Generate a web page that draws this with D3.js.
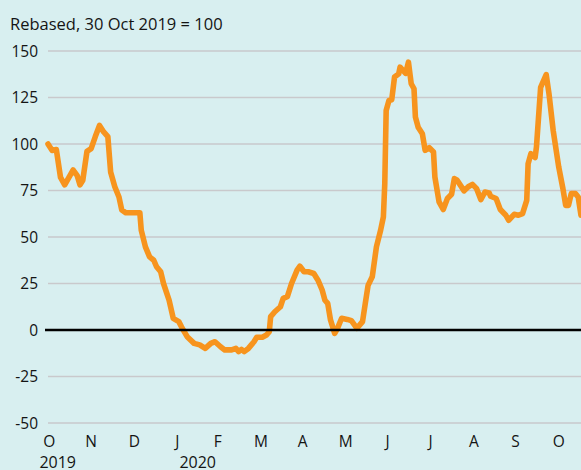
<!DOCTYPE html>
<html><head><meta charset="utf-8">
<script src="https://cdn.jsdelivr.net/npm/d3@7"></script>
<style>
html,body{margin:0;padding:0;background:#d8eff0;}
svg{display:block;}
text{font-family:"Open Sans",sans-serif;fill:#141414;}
</style></head><body>
<script>
// Data: days since 30 Oct 2019, index value (30 Oct 2019 = 100)
const days = [0,3,6,9,12,18,21,23,25,28,31,34,37,40,43,45,48,51,53,56,66,67,70,73,76,78,81,83,87,90,94,96,100,105,109,113,117,120,124,127,132,135,137,139,141,144,148,150,154,157,159,160,163,167,169,172,175,179,181,184,187,191,194,197,199,201,203,206,208,211,215,218,222,226,228,230,233,236,239,241,242,243,245,247,249,252,253,257,259,261,263,264,266,269,271,274,277,278,281,284,287,290,292,294,299,302,305,308,311,314,317,318,322,325,329,331,335,338,341,344,345,347,350,351,354,358,360,363,367,370,372,374,376,379,381,383];
const values = [100,96.5,97,82,78,86,83,78,80.5,96,97.5,104,110,106.5,104,85,77,71.5,64.5,63,63,53.7,44.7,39.3,37.5,34,31.3,25,16,6.3,4.5,1.6,-3.6,-7.2,-8,-9.9,-7.2,-6.3,-9,-10.7,-10.7,-9.9,-11.6,-10.4,-11.6,-9.9,-6.3,-3.9,-3.9,-2.7,-0.9,7.2,9.8,12.5,17,17.9,25,32.2,34.3,31.3,31.3,30.4,26.8,21.5,16,14.3,5.4,-1.8,0.9,6.3,5.7,5,0.9,4.5,14.3,24,28.6,44.7,53.6,60.8,78.7,118,123.4,123.8,136,137.7,141.3,138,144,132.4,129.7,114.5,109,105.5,96.6,98,95.7,82.3,68.9,64.8,70.7,73,81.4,80.5,74.8,77,78.3,76,70.1,74.2,73.7,71.9,70.7,64.8,61.7,59,62.2,61.7,62.6,69.7,89.4,94.8,92.7,98.4,130.5,137.3,127,107.3,87.6,76,67,67,73.3,73.3,71.5,61.7];
const yTicks = [-50,-25,0,25,50,75,100,125,150];
const monthLabels = ["O","N","D","J","F","M","A","M","J","J","A","S","O"];
const yearLabels = ["2019","2020"];
const title = "Rebased, 30 Oct 2019 = 100";

const W = 581, H = 470;
const start = new Date(2019, 9, 30);
const svg = d3.select("body").append("svg").attr("width", W).attr("height", H);
svg.append("rect").attr("width", W).attr("height", H).attr("fill", "#d8eff0");

const x = d3.scaleTime().domain([start, new Date(2020, 10, 16)]).range([48, 581]);
const y = d3.scaleLinear().domain([-50, 150]).range([423, 51]);

// title
svg.append("text").attr("x", 10).attr("y", 30).attr("font-size", 16.5).text(title);

// grid
svg.append("g").selectAll("line").data(yTicks.filter(d => d !== 0)).join("line")
  .attr("x1", 48).attr("x2", W).attr("y1", d => y(d)).attr("y2", d => y(d))
  .attr("stroke", "#c9c9cc").attr("stroke-width", 1.6);

// y labels
svg.append("g").selectAll("text").data(yTicks).join("text")
  .attr("x", 38).attr("y", d => y(d) + 5.5).attr("text-anchor", "end")
  .attr("font-size", 15.5).text(d => d);

// data line
const pts = days.map((d, i) => ({date: d3.timeDay.offset(start, d), v: values[i]}));
svg.append("path").datum(pts)
  .attr("fill", "none").attr("stroke", "#f7941e").attr("stroke-width", 5.6)
  .attr("stroke-linejoin", "round").attr("stroke-linecap", "round")
  .attr("d", d3.line().x(d => x(d.date)).y(d => y(d.v)));

// zero line
svg.append("line").attr("x1", 45).attr("x2", W).attr("y1", y(0)).attr("y2", y(0))
  .attr("stroke", "#000").attr("stroke-width", 2.6);

// x labels: each month letter sits at the end of its month
const months = d3.timeMonth.range(new Date(2019, 9, 1), new Date(2020, 10, 1));
svg.append("g").selectAll("text").data(months).join("text")
  .attr("x", d => x(d3.timeDay.offset(d3.timeMonth.offset(d, 1), -1)))
  .attr("y", 447).attr("text-anchor", "middle").attr("font-size", 15.5)
  .text((d, i) => monthLabels[i]);

const yearMonths = [months[0], months[3]];
svg.append("g").selectAll("text").data(yearMonths).join("text")
  .attr("x", (d, i) => x(d3.timeDay.offset(d3.timeMonth.offset(d, 1), -1)) + (i === 0 ? -10 : 2))
  .attr("y", 468).attr("text-anchor", "start").attr("font-size", 16)
  .text((d, i) => yearLabels[i]);
</script>
</body></html>
